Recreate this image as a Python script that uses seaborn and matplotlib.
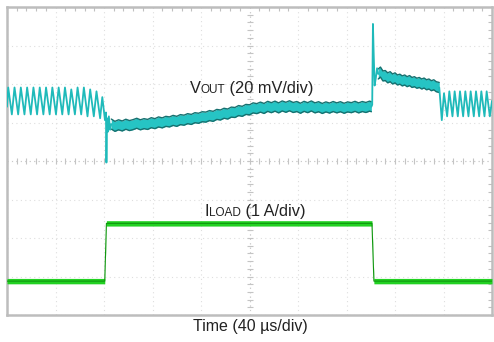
import numpy as np
import pandas as pd
import matplotlib
matplotlib.use('Agg')
import matplotlib.pyplot as plt
from matplotlib.ticker import AutoMinorLocator
import seaborn as sns

sns.set_style('white')
plt.rcParams['font.family'] = ['Liberation Sans', 'DejaVu Sans']

# scope settings: channel position (div) and scale
VOUT_POS, VOUT_SCALE = 5.56, 20.0   # mV/div
ILOAD_POS, ILOAD_SCALE = 0.78, 1.0  # A/div

# Vout ripple before the load step (time in us, deviation in mV)
pre_t = [0.0, 1.0, 4.0, 6.2, 9.2, 11.4, 14.4, 16.6, 19.6, 21.8, 24.8, 27.0, 30.0,
         32.2, 35.2, 37.4, 40.4, 42.6, 45.6, 47.8, 50.8, 53.0, 56.0, 58.2, 61.2,
         63.4, 66.4, 68.6, 71.6, 73.8, 76.8, 78.6, 80.8,
         81.6, 82.0, 82.5, 83.2, 84.0, 85.0, 86.0]
pre_v = [-3, 7, -7, 7, -7, 7, -7, 7, -7, 7, -7, 7, -7,
         7, -7, 7, -7, 7, -7, 7, -7, 6, -7, 7, -7,
         7, -8, 6, -8, 5, -9, 2, -10,
         -6, -32, -9, -16, -8, -15, -12]

# Vout under load (noisy band centre)
load_t = [86, 89, 92, 95, 98, 101, 104, 107, 110, 113, 116, 119, 122, 125, 128,
          131, 134, 137, 140, 143, 146, 149, 152, 155, 158, 161, 164, 167, 170,
          173, 176, 179, 182, 185, 188, 191, 194, 197, 200, 203, 206, 209, 212,
          215, 218, 221, 224, 227, 230, 233, 236, 239, 242, 245, 248, 251, 254,
          257, 260, 263, 266, 269, 272, 275, 278, 281, 284, 287, 290, 293, 296,
          299, 300.5]
load_v = [-12.0, -13.2, -12.4, -13.0, -12.1, -12.8, -12.3, -11.6, -12.4, -11.8,
          -12.2, -11.3, -11.8, -10.9, -11.4, -10.6, -10.9, -10.1, -10.6, -9.7,
          -10.0, -9.2, -9.6, -8.7, -9.0, -8.2, -8.4, -7.6, -8.0, -7.0, -7.3,
          -6.4, -6.8, -5.8, -6.0, -5.0, -5.4, -4.4, -4.6, -3.6, -4.0, -3.2,
          -3.9, -2.8, -3.5, -2.7, -3.6, -2.6, -3.3, -2.5, -3.4, -2.9, -3.8,
          -2.8, -3.5, -2.6, -3.6, -3.0, -3.9, -3.1, -3.7, -2.9, -3.6, -3.0,
          -3.8, -3.1, -3.5, -2.8, -3.6, -2.9, -3.4, -2.7, -3.0]

# load release overshoot
spike_t = [300.5, 301.2, 301.8, 302.4, 303.2, 304.2, 305.2, 306.2]
spike_v = [-3.0, -2, 40, 25, 8, 12, 17, 14]
rel_t = [306.2, 308, 310, 312, 314, 316, 318, 320, 322, 324, 326, 328, 330,
         332, 334, 336, 338, 340, 342, 344, 346, 348, 350, 352, 354, 356.5]
rel_v = [14.0, 15.0, 13.0, 13.2, 12.0, 12.6, 11.4, 12.0, 10.9, 11.3, 10.4,
         10.9, 10.0, 10.6, 9.6, 10.0, 9.2, 9.6, 8.8, 9.3, 8.4, 8.8, 7.9, 8.4,
         7.4, 7.0]

# ripple after the load is released
post_t = [356.5, 358.6, 360.4, 363.0, 364.8, 367.4, 369.2, 371.8, 373.6, 376.2,
          378.0, 380.6, 382.4, 385.0, 386.8, 389.4, 391.2, 393.8, 395.6, 398.2, 400.0]
post_v = [7, -10, 4, -8, 5, -8, 5, -8, 5, -8, 5, -8, 5, -8, 5, -8, 5, -8, 5, -8, 0]
noise_mv = 2.6

# load current (A)
iload_t = [0.0, 80.6, 82.0, 301.0, 302.6, 400.0]
iload_a = [0.1, 0.1, 1.6, 1.6, 0.1, 0.1]
noise_a = 0.07

CYAN, TEAL = '#26c4c4', '#17706f'
GREEN, DKGREEN = '#22d122', '#10960f'
TXT = '#222222'

lines = pd.concat([
    pd.DataFrame({'t': pre_t, 'mv': pre_v, 'seg': 'pre'}),
    pd.DataFrame({'t': spike_t, 'mv': spike_v, 'seg': 'spike'}),
    pd.DataFrame({'t': post_t, 'mv': post_v, 'seg': 'post'}),
])
lines['div'] = VOUT_POS + lines['mv'] / VOUT_SCALE

fig = plt.figure(figsize=(4.94, 3.42), dpi=100)
ax = fig.add_axes([7 / 494, 1 - 315 / 342, 485 / 494, 308 / 342])

# graticule
ax.set_xlim(0, 400)
ax.set_ylim(0, 8)
ax.set_xticks(np.arange(0, 401, 40))
ax.set_yticks(np.arange(0, 9, 1))
ax.xaxis.set_minor_locator(AutoMinorLocator(5))
ax.yaxis.set_minor_locator(AutoMinorLocator(5))
ax.grid(True, which='major', ls=(0, (1, 3)), color='#dedede', lw=0.8)
ax.tick_params(which='both', direction='in', top=True, right=True,
               labelbottom=False, labelleft=False, color='#c0c0c0')
ax.tick_params(which='major', length=0)
ax.tick_params(which='minor', length=3, width=0.8)
for s in ax.spines.values():
    s.set_color('#bdbdbd')
    s.set_linewidth(1.8)
ax.axhline(4, color='#cacaca', lw=0.8, ls=(0, (1, 3)))
ax.axvline(200, color='#cacaca', lw=0.8, ls=(0, (1, 3)))
ax.plot(np.arange(0, 401, 8), np.full(51, 4.0), '|', ms=4, color='#c4c4c4', mew=0.8)
ax.plot(np.full(41, 200.0), np.arange(0, 8.01, 0.2), '_', ms=4, color='#c4c4c4', mew=0.8)

# Vout noise bands
for bt, bv in [(load_t, load_v), (rel_t, rel_v)]:
    c = VOUT_POS + np.array(bv) / VOUT_SCALE
    h = noise_mv / VOUT_SCALE
    ax.fill_between(bt, c - h, c + h, color=CYAN, lw=0, zorder=3)
    ax.plot(bt, c - h, color=TEAL, lw=1.0, zorder=3)
    ax.plot(bt, c + h, color=TEAL, lw=1.0, zorder=3)

sns.lineplot(data=lines, x='t', y='div', units='seg', estimator=None, sort=False,
             color='#1fbaba', lw=1.3, ax=ax, legend=False, zorder=4)

# load current
ic = ILOAD_POS + np.array(iload_a) / ILOAD_SCALE
ih = noise_a / ILOAD_SCALE
ax.fill_between(iload_t, ic - ih, ic + ih, color=GREEN, lw=0, zorder=3)
idf = pd.DataFrame({'t': iload_t, 'div': ic})
sns.lineplot(data=idf, x='t', y='div', estimator=None, sort=False,
             color=DKGREEN, lw=0.8, ax=ax, legend=False, zorder=4)

ax.set_xlabel('')
ax.set_ylabel('')
fig.text(250 / 494, 1 - 331 / 342, 'Time (40 µs/div)', fontsize=11.5,
         ha='center', va='baseline', color=TXT)

# channel labels with small-caps style subscripts
def chan_label(x, y, main, sub, rest):
    t1 = ax.text(x, y, main, transform=ax.transAxes, fontsize=11.8,
                 va='bottom', color=TXT)
    t2 = ax.annotate(sub, xy=(1, 0), xycoords=t1, fontsize=8.5,
                     va='bottom', color=TXT)
    ax.annotate(rest, xy=(1, 0), xycoords=t2, fontsize=11.8,
                va='bottom', color=TXT)

chan_label(0.377, 0.712, 'V', 'OUT', ' (20 mV/div)')
chan_label(0.408, 0.312, 'I', 'LOAD', ' (1 A/div)')

fig.savefig('out.png', dpi=100)
